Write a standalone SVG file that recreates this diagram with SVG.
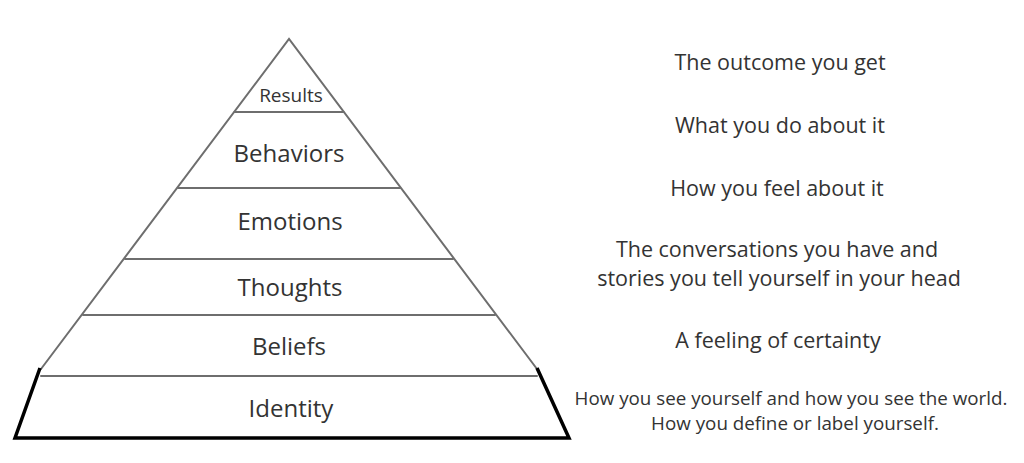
<svg xmlns="http://www.w3.org/2000/svg" width="1024" height="463" viewBox="0 0 1024 463">
<style>
.thin{stroke:#6e6e6e;stroke-width:2;fill:none;stroke-linecap:round}
.thick{stroke:#000;stroke-width:3.5;fill:none;stroke-linejoin:miter}
.lbl{font-family:"Open Sans","Noto Sans",sans-serif;fill:#333;text-anchor:middle}
.big{font-size:24px}
.desc{font-size:21.5px}
.small{font-size:18.8px}
</style>
<rect width="1024" height="463" fill="#fff"/>
<g id="pyramid">
<path class="thin" d="M41,369 L289,39 L537,369"/>
<line class="thin" x1="234.5" y1="112" x2="343.5" y2="112"/>
<line class="thin" x1="178" y1="188" x2="400" y2="188"/>
<line class="thin" x1="125" y1="259" x2="453" y2="259"/>
<line class="thin" x1="83" y1="315" x2="495" y2="315"/>
<line class="thin" x1="41" y1="376" x2="537" y2="376"/>
<path class="thick" d="M40,368 L15,438 L569,438 L537,368"/>
</g>
<g id="results"><text class="lbl" x="291" y="102" font-size="19">Results</text></g>
<g id="behaviors"><text class="lbl big" x="289" y="162">Behaviors</text></g>
<g id="emotions"><text class="lbl big" x="290" y="230">Emotions</text></g>
<g id="thoughts"><text class="lbl big" x="290" y="296">Thoughts</text></g>
<g id="beliefs"><text class="lbl big" x="289" y="355">Beliefs</text></g>
<g id="identity"><text class="lbl big" x="291" y="417">Identity</text></g>
<g id="descriptions">
<text class="lbl desc" x="780" y="70">The outcome you get</text>
<text class="lbl desc" x="780" y="133">What you do about it</text>
<text class="lbl desc" x="777" y="196">How you feel about it</text>
<text class="lbl desc" x="777" y="257">The conversations you have and</text>
<text class="lbl desc" x="779" y="286">stories you tell yourself in your head</text>
<text class="lbl desc" x="778" y="348">A feeling of certainty</text>
<text class="lbl small" x="791" y="405">How you see yourself and how you see the world.</text>
<text class="lbl small" x="795" y="430">How you define or label yourself.</text>
</g>
</svg>
